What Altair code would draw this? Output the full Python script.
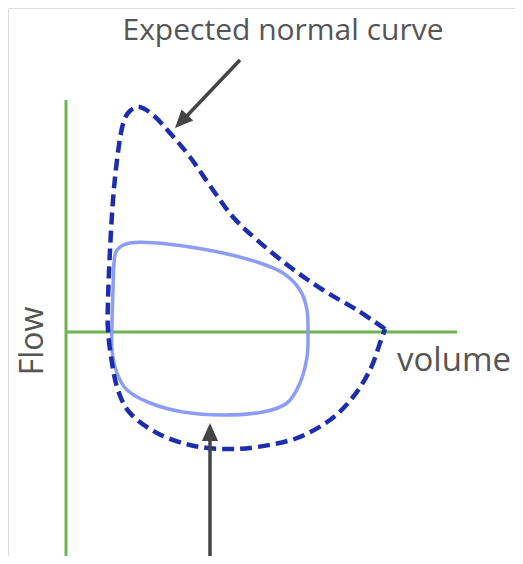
import altair as alt
import pandas as pd

# Expected normal flow-volume loop (dashed), starting and ending at the right tip
normal_volume = [6.38, 5.82, 5.14, 4.48, 3.82, 3.34, 2.94, 2.48, 2.08, 1.74, 1.46, 1.24,
                 1.12, 1.02, 0.94, 0.88, 0.84, 0.84, 0.92, 1.04, 1.28, 1.82, 2.48, 3.14,
                 3.82, 4.62, 5.28, 5.74, 6.08, 6.28, 6.38]
normal_flow = [0.06, 0.44, 0.84, 1.30, 1.84, 2.30, 2.84, 3.50, 3.98, 4.34, 4.50, 4.38,
               4.08, 3.44, 2.64, 1.64, 0.64, 0.04, -0.62, -1.16, -1.62, -2.02, -2.26, -2.34,
               -2.30, -2.12, -1.76, -1.30, -0.76, -0.22, 0.06]

# Measured loop (solid, closed)
measured_volume = [1.02, 1.28, 1.82, 2.48, 3.14, 3.82, 4.34, 4.68, 4.82, 4.84, 4.82, 4.68,
                   4.42, 3.94, 3.14, 2.34, 1.68, 1.22, 1.02, 0.92, 0.92, 0.94, 0.96]
measured_flow = [1.64, 1.78, 1.78, 1.70, 1.58, 1.40, 1.18, 0.84, 0.44, -0.02, -0.50, -1.02,
                 -1.42, -1.60, -1.66, -1.60, -1.42, -1.16, -0.82, -0.36, 0.18, 0.84, 1.38]

# Axis lines
axis_x = [0.0, 0.0]
axis_x2 = [0.0, 7.82]
axis_y = [4.64, 0.0]
axis_y2 = [-4.64, 0.0]

# Annotation arrows: tail -> shaft end, and tip
arrow_x = [3.48, 2.88]
arrow_y = [5.44, -4.64]
arrow_x2 = [2.32, 2.88]
arrow_y2 = [4.22, -2.02]
tip_x = [2.18, 2.88]
tip_y = [4.08, -1.82]
tip_angle = [223.7, 0]

# Labels
labels = ["Expected normal curve", "volume", "Flow"]
label_x = [4.34, 6.62, -0.46]
label_y = [5.84, -0.78, -0.18]

X_DOM = [-1.16, 8.98]
Y_DOM = [-4.48, 6.48]

xs = alt.Scale(domain=X_DOM, nice=False, zero=False)
ys = alt.Scale(domain=Y_DOM, nice=False, zero=False)

normal_df = pd.DataFrame({"volume": normal_volume, "flow": normal_flow,
                          "i": list(range(len(normal_volume)))})
measured_df = pd.DataFrame({"volume": measured_volume, "flow": measured_flow,
                            "i": list(range(len(measured_volume)))})
axes_df = pd.DataFrame({"x": axis_x, "x2": axis_x2, "y": axis_y, "y2": axis_y2})
arrow_df = pd.DataFrame({"x": arrow_x, "x2": arrow_x2, "y": arrow_y, "y2": arrow_y2})
tip_df = pd.DataFrame({"x": tip_x, "y": tip_y, "angle": tip_angle})

X = lambda f: alt.X(f, type="quantitative", scale=xs, axis=None)
Y = lambda f: alt.Y(f, type="quantitative", scale=ys, axis=None)

axes = alt.Chart(axes_df).mark_rule(color="#6db350", strokeWidth=3).encode(
    x=X("x"), x2="x2", y=Y("y"), y2="y2")

measured = alt.Chart(measured_df).mark_line(
    color="#8d9cf5", strokeWidth=3.5, interpolate="cardinal-closed").encode(
    x=X("volume"), y=Y("flow"), order="i:Q")

normal = alt.Chart(normal_df).mark_line(
    color="#1c2eae", strokeWidth=4.5, strokeDash=[12, 6], interpolate="cardinal").encode(
    x=X("volume"), y=Y("flow"), order="i:Q")

shafts = alt.Chart(arrow_df).mark_rule(color="#454545", strokeWidth=3.5).encode(
    x=X("x"), x2="x2", y=Y("y"), y2="y2")

heads = alt.Chart(tip_df).mark_point(
    shape="M0,0L-0.45,1L0.45,1Z", filled=True, opacity=1, color="#454545",
    size=1296, strokeWidth=0).encode(
    x=X("x"), y=Y("y"), angle=alt.Angle("angle:Q", scale=None))

t1 = alt.Chart(pd.DataFrame({"t": [labels[0]], "x": [label_x[0]], "y": [label_y[0]]})).mark_text(
    font="Open Sans", fontSize=30, color="#555555",
    align="center", baseline="alphabetic").encode(
    x=X("x"), y=Y("y"), text="t")
t2 = alt.Chart(pd.DataFrame({"t": [labels[1]], "x": [label_x[1]], "y": [label_y[1]]})).mark_text(
    font="Open Sans", fontSize=33, color="#555555", align="left", baseline="alphabetic").encode(
    x=X("x"), y=Y("y"), text="t")
t3 = alt.Chart(pd.DataFrame({"t": [labels[2]], "x": [label_x[2]], "y": [label_y[2]]})).mark_text(
    font="Open Sans", fontSize=32, color="#555555", align="center", baseline="alphabetic",
    angle=270).encode(
    x=X("x"), y=Y("y"), text="t")

chart = alt.layer(axes, measured, normal, shafts, heads, t1, t2, t3).properties(
    width=507, height=548, padding=0,
    autosize=alt.AutoSizeParams(type="none"),
).configure_view(stroke=None).configure(background="white")

chart.save("out.html", embed_options={"renderer": "svg", "actions": False})
